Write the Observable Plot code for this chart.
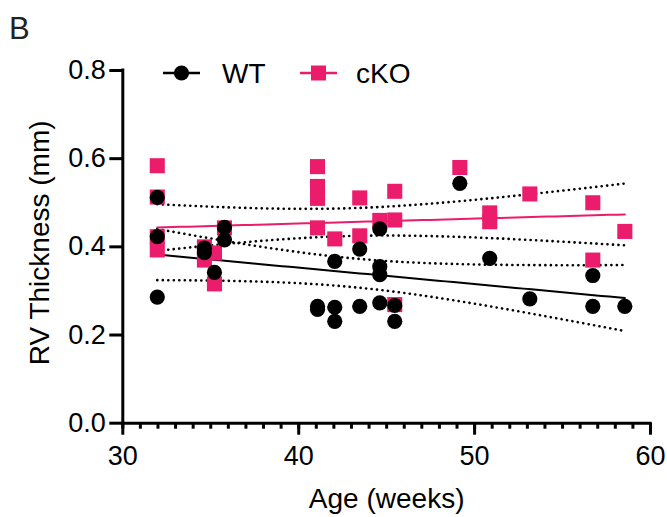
<!DOCTYPE html>
<html>
<head>
<meta charset="utf-8">
<script src="https://cdn.jsdelivr.net/npm/d3@7"></script>
<script src="https://cdn.jsdelivr.net/npm/@observablehq/plot@0.6"></script>
<style>
  html, body { margin: 0; padding: 0; background: white; }
  #wrap { position: relative; width: 667px; height: 517px; font-family: "Liberation Sans", Arial, sans-serif; }
  #legend { position: absolute; left: 0; top: 0; pointer-events: none; }
</style>
</head>
<body>
<div id="wrap"></div>
<script>
// ---- data ----
const ageWT = [31.96, 31.96, 31.96, 34.64, 34.64, 35.21, 35.78, 35.78, 41.07, 41.07, 42.05, 42.05, 42.05, 43.47, 43.47,
               44.61, 44.61, 44.61, 44.61, 45.46, 45.46, 49.16, 50.86, 53.14, 56.72, 56.72, 58.54];
const rvWT  = [0.512, 0.423, 0.286, 0.397, 0.387, 0.342, 0.444, 0.416, 0.265, 0.258, 0.367, 0.263, 0.231, 0.395, 0.265,
               0.441, 0.355, 0.337, 0.273, 0.267, 0.231, 0.544, 0.374, 0.282, 0.335, 0.265, 0.265];
const ageKO = [31.96, 31.96, 31.96, 31.96, 34.64, 34.64, 35.21, 35.21, 35.78, 41.07, 41.07, 41.07, 41.07, 42.05, 43.47, 43.47,
               44.61, 45.46, 45.46, 45.46, 49.16, 50.86, 50.86, 53.14, 56.72, 56.72, 58.54];
const rvKO  = [0.584, 0.513, 0.423, 0.393, 0.400, 0.370, 0.386, 0.316, 0.443, 0.582, 0.537, 0.510, 0.443, 0.418, 0.511, 0.425,
               0.460, 0.526, 0.461, 0.269, 0.580, 0.477, 0.457, 0.520, 0.500, 0.370, 0.435];
const groups = ["WT", "cKO"];
const groupColors = ["#000000", "#ec1c6c"];
const xTicks = [30, 40, 50, 60];
const xMinorTicks = d3.range(30, 61, 1);
const yTicks = [0, 0.2, 0.4, 0.6, 0.8];
const panelLabel = "B";

const wt = ageWT.map((a, i) => ({age: a, rv: rvWT[i]}));
const ko = ageKO.map((a, i) => ({age: a, rv: rvKO[i]}));

// ---- linear regression with 95% confidence band, computed from the data ----
function tCrit(df) {
  const z = 1.959964;
  return z + (z ** 3 + z) / (4 * df) + (5 * z ** 5 + 16 * z ** 3 + 3 * z) / (96 * df * df)
           + (3 * z ** 7 + 19 * z ** 5 + 17 * z ** 3 - 15 * z) / (384 * df ** 3);
}
function fit(data) {
  const n = data.length;
  const mx = d3.mean(data, d => d.age), my = d3.mean(data, d => d.rv);
  const sxx = d3.sum(data, d => (d.age - mx) ** 2);
  const sxy = d3.sum(data, d => (d.age - mx) * (d.rv - my));
  const b = sxy / sxx, a = my - b * mx;
  const sse = d3.sum(data, d => (d.rv - (a + b * d.age)) ** 2);
  const s = Math.sqrt(sse / (n - 2));
  const t = tCrit(n - 2);
  const [x0, x1] = d3.extent(data, d => d.age);
  return d3.range(0, 61).map(k => {
    const x = x0 + (x1 - x0) * k / 60;
    const yh = a + b * x;
    const se = s * Math.sqrt(1 / n + (x - mx) ** 2 / sxx);
    return {age: x, fit: yh, lo: yh - t * se, hi: yh + t * se};
  });
}
const fitWT = fit(wt);
const fitKO = fit(ko);

const dotted = {stroke: "black", strokeWidth: 2.6, strokeDasharray: "0.1,5.4", strokeLinecap: "round"};

const chart = Plot.plot({
  width: 667,
  height: 517,
  marginLeft: 122.3,
  marginRight: 17,
  marginTop: 70,
  marginBottom: 94.3,
  x: {domain: [30, 60]},
  y: {domain: [0, 0.8]},
  style: {fontFamily: "'Liberation Sans', Arial, sans-serif", fontSize: "27px", color: "black", background: "white"},
  marks: [
    // confidence bands (dotted)
    Plot.line(fitWT, {x: "age", y: "lo", ...dotted}),
    Plot.line(fitWT, {x: "age", y: "hi", ...dotted}),
    Plot.line(fitKO, {x: "age", y: "lo", ...dotted}),
    Plot.line(fitKO, {x: "age", y: "hi", ...dotted}),
    // fitted lines
    Plot.line(fitWT, {x: "age", y: "fit", stroke: groupColors[0], strokeWidth: 2}),
    Plot.line(fitKO, {x: "age", y: "fit", stroke: groupColors[1], strokeWidth: 2}),
    // points
    Plot.dot(ko, {x: "age", y: "rv", symbol: "square", r: 8.5, fill: groupColors[1], stroke: "none"}),
    Plot.dot(wt, {x: "age", y: "rv", symbol: "circle", r: 7.6, fill: groupColors[0], stroke: "none"}),
    // axes
    Plot.axisX({ticks: xMinorTicks, tickSize: 6, strokeWidth: 3, fill: "none", label: null}),
    Plot.axisX({ticks: xTicks, tickSize: 12, strokeWidth: 3, tickPadding: 11, label: null, fontSize: 27}),
    Plot.axisY({ticks: yTicks, tickSize: 13, strokeWidth: 3, tickPadding: 4, tickFormat: d3.format(".1f"), label: null, fontSize: 27}),
    Plot.ruleY([0], {x1: 30, x2: 60, strokeWidth: 3, strokeLinecap: "square"}),
    Plot.ruleX([30], {y1: 0, y2: 0.8, strokeWidth: 3, strokeLinecap: "square"}),
    // axis titles
    Plot.text(["Age (weeks)"], {frameAnchor: "bottom", textAnchor: "middle", lineAnchor: "top", dy: 65, fontSize: 28}),
    Plot.text(["RV Thickness (mm)"], {frameAnchor: "left", textAnchor: "middle", lineAnchor: "middle", rotate: -90, dx: -83, dy: -4, fontSize: 28})
  ]
});
document.getElementById("wrap").appendChild(chart);

// ---- overlay: panel label and legend ----
const font = "'Liberation Sans', Arial, sans-serif";
const leg = d3.select("#wrap").append("svg")
  .attr("id", "legend").attr("width", 667).attr("height", 110);
leg.append("text").attr("x", 9).attr("y", 39).style("font-size", "31px").style("font-family", font)
  .attr("fill", "#222").text(panelLabel);

const legendLineStart = [163, 300];
const legendTextStart = [222, 356];
const legendY = 73;
groups.forEach((g, i) => {
  const x0 = legendLineStart[i];
  leg.append("line").attr("x1", x0).attr("x2", x0 + 37).attr("y1", legendY).attr("y2", legendY)
    .attr("stroke", groupColors[i]).attr("stroke-width", 2.5);
  if (i === 0) {
    leg.append("circle").attr("cx", x0 + 18.5).attr("cy", legendY).attr("r", 7.6).attr("fill", groupColors[i]);
  } else {
    leg.append("rect").attr("x", x0 + 18.5 - 7.5).attr("y", legendY - 7.5).attr("width", 15).attr("height", 15)
      .attr("fill", groupColors[i]);
  }
  leg.append("text").attr("x", legendTextStart[i]).attr("y", legendY).attr("dy", "0.36em")
    .style("font-size", "28px").style("font-family", font).attr("fill", "black").text(g);
});
</script>
</body>
</html>
